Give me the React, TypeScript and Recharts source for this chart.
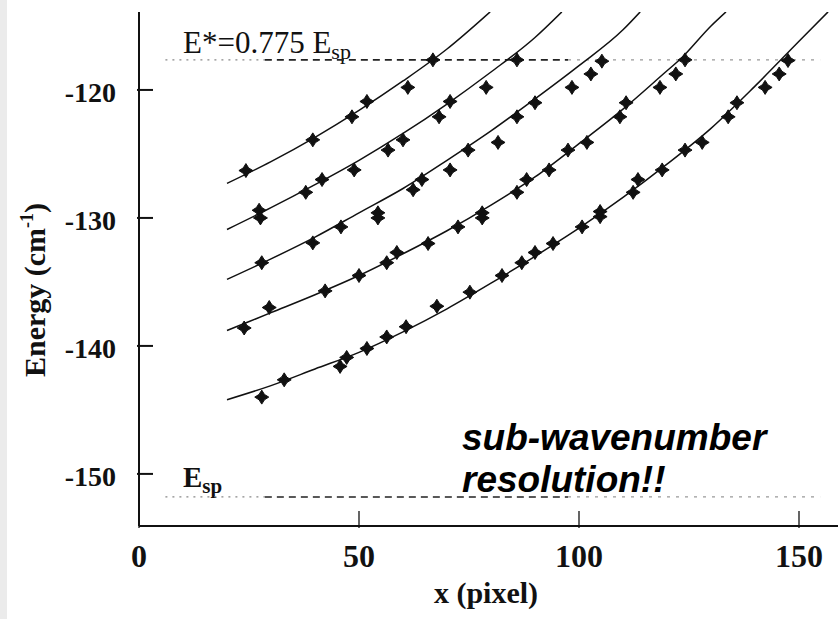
import React from "react";
import {
    ComposedChart,
    Line,
    Scatter,
    XAxis,
    YAxis,
    ReferenceLine,
    Customized,
} from "recharts";

// fitted curves (x in pixel, energy in cm^-1)
const fitX_A = [20, 30, 40, 50, 60, 70, 79.8];
const fitE_A = [-127.3, -125.6, -123.7, -121.6, -119.3, -116.8, -113.9];

const fitX_B = [20, 30, 40, 50, 60, 70, 80, 90, 96.1];
const fitE_B = [-130.9, -129.2, -127.4, -125.5, -123.4, -121.1, -118.6, -115.9, -113.9];

const fitX_C = [20, 30, 40, 50, 60, 70, 80, 90, 100, 110, 113.9];
const fitE_C = [-134.8, -133.2, -131.5, -129.6, -127.7, -125.5, -123.2, -120.7, -118.1, -115.3, -113.9];

const fitX_D = [20, 30, 40, 50, 60, 70, 80, 90, 100, 110, 120, 123, 130, 133.4];
const fitE_D = [-138.8, -137.4, -136.0, -134.5, -132.8, -131.0, -129.0, -126.8, -124.2, -121.5, -118.5, -117.6, -115.0, -113.9];

const fitX_E = [20, 30, 40, 50, 60, 70, 80, 90, 100, 110, 120, 130, 140, 150, 156.6];
const fitE_E = [-144.2, -143.1, -141.8, -140.5, -138.9, -137.1, -135.1, -133.0, -130.8, -128.4, -125.8, -123.0, -119.7, -116.2, -113.9];

// measured points
const ptsX_A = [24.3, 39.5, 48.4, 51.8, 61.1, 66.8];
const ptsE_A = [-126.3, -123.9, -122.1, -120.9, -119.8, -117.65];

const ptsX_B = [27.3, 27.6, 37.9, 41.6, 48.9, 56.6, 60, 68.2, 70.7, 78.9, 85.9];
const ptsE_B = [-129.4, -130.0, -128.0, -127.0, -126.25, -124.7, -123.9, -122.1, -120.9, -119.8, -117.65];

const ptsX_C = [27.9, 39.5, 45.9, 54.3, 54.3, 62.3, 64.3, 70.7, 74.8, 81.6, 85.9, 90, 98.4, 102.7, 105.2];
const ptsE_C = [-133.5, -131.95, -130.7, -129.6, -130.0, -127.8, -127.0, -126.25, -124.7, -124.1, -122.1, -121.0, -119.8, -118.75, -117.75];

const ptsX_D = [23.9, 29.6, 42.3, 50, 56.3, 58.6, 65.7, 72.5, 78, 78, 85.9, 88.1, 93.2, 97.5, 101.8, 109.3, 110.7, 118.4, 122, 124.1];
const ptsE_D = [-138.6, -137.0, -135.7, -134.5, -133.5, -132.7, -132.0, -130.7, -129.6, -130.0, -128.0, -127.0, -126.25, -124.7, -124.1, -122.1, -121.0, -119.8, -118.75, -117.65];

const ptsX_E = [27.9, 33, 45.7, 47.2, 51.8, 56.3, 60.7, 67.7, 75.2, 82.5, 87, 90, 94.1, 100.7, 104.8, 104.8, 112.3, 113.4, 118.9, 124.1, 128, 133.9, 135.9, 142.3, 145.5, 147.5];
const ptsE_E = [-144.0, -142.65, -141.6, -140.9, -140.2, -139.3, -138.5, -136.9, -135.8, -134.5, -133.5, -132.7, -132.0, -130.7, -129.9, -129.5, -128.0, -127.0, -126.25, -124.7, -124.1, -122.1, -121.0, -119.8, -118.75, -117.7];

// reference levels
const E_SP = -151.8;
const E_STAR = -117.65;
const refSegmentsX = [6, 28.6, 97.5, 154.8];

const xTicks = [0, 50, 100, 150];
const yTicks = [-150, -140, -130, -120];

const zip = (xs: number[], ys: number[]) => xs.map((x, i) => ({ x, y: ys[i] }));

const fits = [
    zip(fitX_A, fitE_A),
    zip(fitX_B, fitE_B),
    zip(fitX_C, fitE_C),
    zip(fitX_D, fitE_D),
    zip(fitX_E, fitE_E),
];
const points = [
    zip(ptsX_A, ptsE_A),
    zip(ptsX_B, ptsE_B),
    zip(ptsX_C, ptsE_C),
    zip(ptsX_D, ptsE_D),
    zip(ptsX_E, ptsE_E),
];

const SERIF = "'Liberation Serif', 'Times New Roman', serif";
const SANS = "'Liberation Sans', Arial, sans-serif";
const INK = "#111";

// fat four-point cross, like the printed markers
const Star = (props: any) => {
    const { cx, cy } = props;
    if (cx == null || cy == null) return null;
    const r = 7;
    const q = 2.7;
    const d = `M${cx},${cy - r} L${cx + q},${cy - q} L${cx + r},${cy} L${cx + q},${cy + q} L${cx},${cy + r} L${cx - q},${cy + q} L${cx - r},${cy} L${cx - q},${cy - q} Z`;
    return <path d={d} fill={INK} stroke={INK} strokeWidth={1} strokeLinejoin="round" />;
};

const BottomTick = ({ x, y, payload }: any) => (
    <g>
        <line x1={x} x2={x} y1={y} y2={y - 17} stroke={INK} strokeWidth={1.3} />
        <text x={x} y={y + 39} textAnchor="middle" fontFamily={SERIF} fontWeight="bold" fontSize={32} fill={INK}>
            {payload.value}
        </text>
    </g>
);

const TopTick = ({ x, y }: any) => (
    <line x1={x} x2={x} y1={y} y2={y + 16} stroke={INK} strokeWidth={1.3} />
);

const LeftTick = ({ x, y, payload }: any) => (
    <g>
        <line x1={x} x2={x + 16} y1={y} y2={y} stroke={INK} strokeWidth={2} />
        <text x={x - 21} y={y + 12} textAnchor="end" fontFamily={SERIF} fontWeight="bold" fontSize={28} fill={INK}>
            {payload.value}
        </text>
    </g>
);

const RightTick = ({ x, y }: any) => (
    <line x1={x} x2={x - 15} y1={y} y2={y} stroke={INK} strokeWidth={2} />
);

const Annotations = () => (
    <g>
        <text x={183} y={53} fontFamily={SERIF} fontSize={31} fill={INK}>
            E*=0.775 E<tspan fontSize={22} dy={6}>sp</tspan>
        </text>
        <text x={183} y={487} fontFamily={SERIF} fontWeight="bold" fontSize={29} fill={INK}>
            E<tspan fontSize={21} dy={6}>sp</tspan>
        </text>
        <text fontFamily={SANS} fontWeight="bold" fontStyle="italic" fontSize={37} fill="#000">
            <tspan x={462} y={450}>sub-wavenumber</tspan>
            <tspan x={462} y={492}>resolution!!</tspan>
        </text>
        <text x={486} y={603} textAnchor="middle" fontFamily={SERIF} fontWeight="bold" fontSize={30} fill={INK}>
            x (pixel)
        </text>
        <text
            x={45}
            y={290}
            transform="rotate(-90 45 290)"
            textAnchor="middle"
            fontFamily={SERIF}
            fontWeight="bold"
            fontSize={30}
            fill={INK}
        >
            Energy (cm<tspan fontSize={18} dy={-12}>-1</tspan>
            <tspan dy={12}>)</tspan>
        </text>
    </g>
);

const segStyles = [
    { stroke: "#888", dash: "2 5", w: 1.3 },
    { stroke: "#222", dash: "7 5", w: 1.6 },
    { stroke: "#999", dash: "3 6", w: 1.3 },
];

export default function App() {
    const domainY: [number, number] = [-154.07, -113.91];
    return (
        <div style={{ position: "absolute", left: 0, top: 0, width: 838, height: 619, overflow: "hidden", background: "#fff" }}>
            <div style={{ position: "absolute", left: 0, top: 0, width: 7, height: 619, background: "#ebebeb" }} />
            <ComposedChart width={860} height={619} margin={{ top: 12, right: 17, bottom: 0, left: 0 }}>
                <XAxis
                    type="number"
                    dataKey="x"
                    domain={[0, 160]}
                    ticks={xTicks}
                    allowDataOverflow
                    height={93}
                    tickSize={0}
                    tickLine={false}
                    tick={BottomTick}
                    axisLine={{ stroke: INK, strokeWidth: 2 }}
                />
                <XAxis
                    xAxisId="top"
                    orientation="top"
                    type="number"
                    dataKey="x"
                    domain={[0, 160]}
                    ticks={[50, 100, 150]}
                    allowDataOverflow
                    height={0}
                    tickSize={0}
                    tickLine={false}
                    tick={TopTick}
                    axisLine={{ stroke: "#9a9a9a", strokeWidth: 1.5 }}
                />
                <YAxis
                    type="number"
                    dataKey="y"
                    domain={domainY}
                    ticks={yTicks}
                    allowDataOverflow
                    width={139}
                    tickSize={0}
                    tickLine={false}
                    tick={LeftTick}
                    axisLine={{ stroke: INK, strokeWidth: 2 }}
                />
                <YAxis
                    yAxisId="right"
                    orientation="right"
                    type="number"
                    dataKey="y"
                    domain={domainY}
                    ticks={yTicks}
                    allowDataOverflow
                    width={0}
                    tickSize={0}
                    tickLine={false}
                    tick={RightTick}
                    axisLine={false}
                />

                {[E_STAR, E_SP].map((level) =>
                    segStyles.map((s, i) => (
                        <ReferenceLine
                            key={`${level}-${i}`}
                            segment={[
                                { x: refSegmentsX[i], y: level },
                                { x: refSegmentsX[i + 1], y: level },
                            ]}
                            stroke={s.stroke}
                            strokeWidth={s.w}
                            strokeDasharray={s.dash}
                        />
                    ))
                )}

                {fits.map((d, i) => (
                    <Line
                        key={`fit-${i}`}
                        data={d}
                        dataKey="y"
                        type="monotone"
                        stroke={INK}
                        strokeWidth={1.5}
                        dot={false}
                        activeDot={false}
                        isAnimationActive={false}
                    />
                ))}
                {points.map((d, i) => (
                    <Scatter key={`pts-${i}`} data={d} dataKey="y" shape={Star} isAnimationActive={false} />
                ))}

                <Customized component={Annotations} />
            </ComposedChart>
        </div>
    );
}
